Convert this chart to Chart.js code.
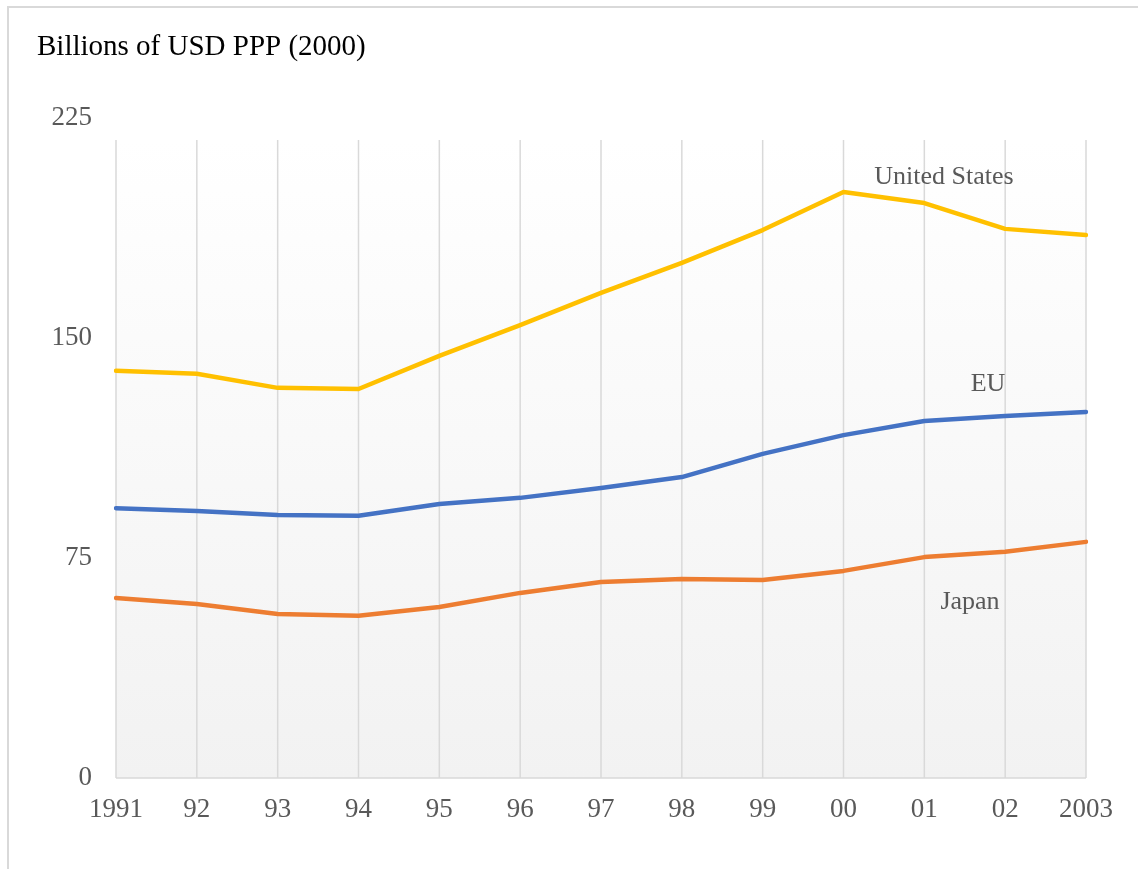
<!DOCTYPE html>
<html>
<head>
<meta charset="utf-8">
<script src="https://cdn.jsdelivr.net/npm/chart.js@4"></script>
<style>
  html, body { margin: 0; padding: 0; background: #fff; }
  #wrap { position: relative; width: 1138px; height: 869px; }
</style>
</head>
<body>
<div id="wrap"><canvas id="chart" width="1138" height="869"></canvas></div>
<script>
const years = ['1991', '92', '93', '94', '95', '96', '97', '98', '99', '00', '01', '02', '2003'];
const usValues = [138.8, 137.8, 133.0, 132.6, 143.9, 154.4, 165.4, 175.6, 186.8, 199.8, 196.0, 187.2, 185.1];
const euValues = [92.0, 91.0, 89.7, 89.4, 93.4, 95.5, 98.9, 102.6, 110.5, 116.9, 121.7, 123.4, 124.8];
const japanValues = [61.4, 59.3, 55.9, 55.3, 58.3, 63.1, 66.8, 67.8, 67.5, 70.6, 75.3, 77.1, 80.5];
const yTicks = [0, 75, 150, 225];

const serif = '"Liberation Serif", "Times New Roman", serif';

// background gradient, vertical grid, frame, title and series labels
const decor = {
    id: 'decor',
    beforeDatasetsDraw(chart) {
        const { ctx, chartArea: a, scales: { x } } = chart;
        const top = a.top + 22;
        ctx.save();
        const g = ctx.createLinearGradient(0, top, 0, a.bottom);
        g.addColorStop(0, '#ffffff');
        g.addColorStop(1, '#f2f2f2');
        ctx.fillStyle = g;
        ctx.fillRect(a.left, top, a.right - a.left, a.bottom - top);
        ctx.strokeStyle = '#d9d9d9';
        ctx.lineWidth = 1.5;
        years.forEach((_, i) => {
            const px = x.getPixelForValue(i);
            ctx.beginPath();
            ctx.moveTo(px, top);
            ctx.lineTo(px, a.bottom);
            ctx.stroke();
        });
        ctx.beginPath();
        ctx.moveTo(a.left, a.bottom);
        ctx.lineTo(a.right, a.bottom);
        ctx.stroke();
        ctx.restore();
    },
    afterDraw(chart) {
        const { ctx } = chart;
        ctx.save();
        ctx.strokeStyle = '#d9d9d9';
        ctx.lineWidth = 2;
        ctx.beginPath();
        ctx.moveTo(8, chart.height);
        ctx.lineTo(8, 7);
        ctx.lineTo(chart.width, 7);
        ctx.stroke();

        ctx.fillStyle = '#000';
        ctx.font = '29px ' + serif;
        ctx.textBaseline = 'middle';
        ctx.textAlign = 'left';
        ctx.fillText('Billions of USD PPP (2000)', 37, 47);

        ctx.fillStyle = '#595959';
        ctx.font = '26px ' + serif;
        ctx.textAlign = 'center';
        ctx.fillText('United States', 944, 177);
        ctx.fillText('EU', 988, 384);
        ctx.fillText('Japan', 970, 602);
        ctx.restore();
    }
};

new Chart(document.getElementById('chart'), {
    type: 'line',
    data: {
        labels: years,
        datasets: [
            { label: 'United States', data: usValues, borderColor: '#FFC000' },
            { label: 'EU', data: euValues, borderColor: '#4472C4' },
            { label: 'Japan', data: japanValues, borderColor: '#ED7D31' }
        ]
    },
    options: {
        responsive: false,
        animation: false,
        layout: { padding: { top: 118, right: 52, left: 0, bottom: 0 } },
        elements: {
            line: { borderWidth: 4.5, tension: 0, borderCapStyle: 'round', borderJoinStyle: 'round' },
            point: { radius: 0 }
        },
        plugins: { legend: { display: false }, tooltip: { enabled: false } },
        scales: {
            x: {
                offset: false,
                grid: { display: false },
                border: { display: false },
                ticks: { color: '#595959', font: { family: serif, size: 27 }, padding: 8, maxRotation: 0, autoSkip: false },
                afterFit(s) { s.height = 91; }
            },
            y: {
                min: 0,
                max: 225,
                afterBuildTicks(s) { s.ticks = yTicks.map(v => ({ value: v })); },
                grid: { display: false },
                border: { display: false },
                ticks: { color: '#595959', font: { family: serif, size: 27 }, padding: 16 },
                afterFit(s) { s.width = 116; }
            }
        }
    },
    plugins: [decor]
});
</script>
</body>
</html>
